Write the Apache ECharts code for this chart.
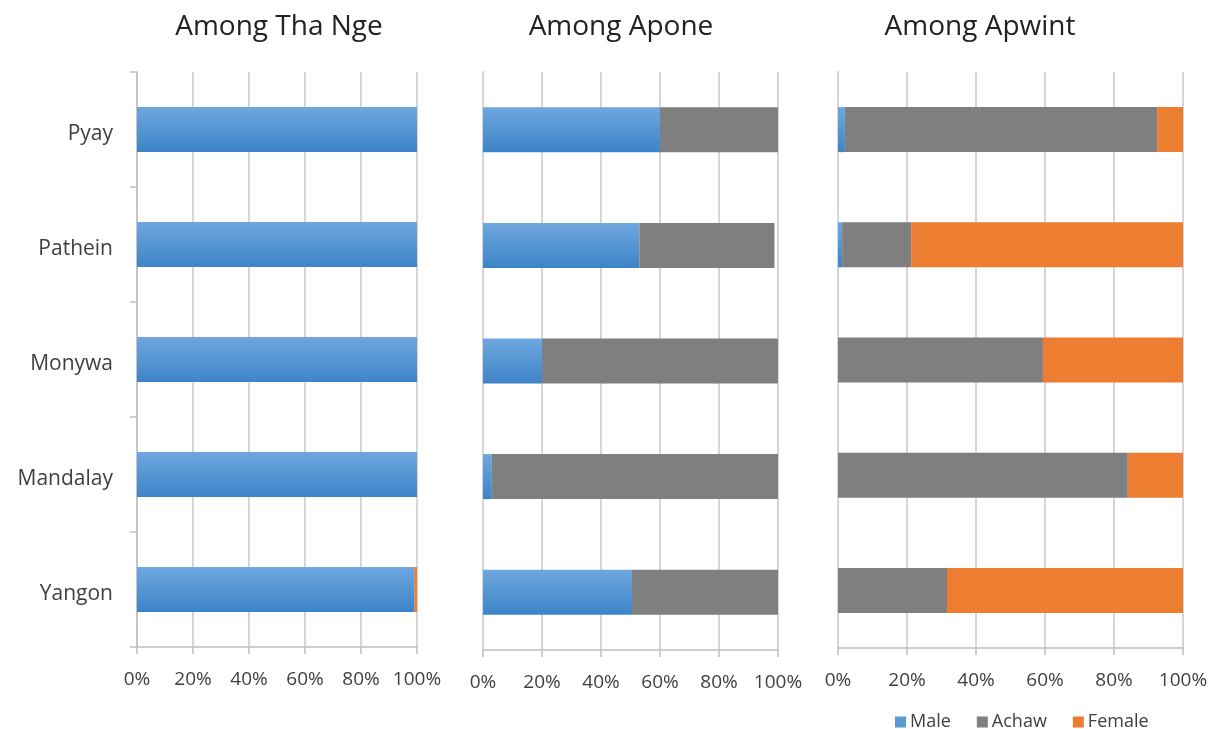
<!DOCTYPE html>
<html>
<head>
<meta charset="utf-8">
<title>Among Tha Nge / Apone / Apwint</title>
<script src="https://cdn.jsdelivr.net/npm/echarts@6/dist/echarts.min.js"></script>
<style>
  html, body { margin: 0; padding: 0; background: #ffffff; }
  #chart { width: 1214px; height: 729px; }
</style>
</head>
<body>
<div id="chart"></div>
<script>
// Cities, top to bottom
const categories = ['Pyay', 'Pathein', 'Monywa', 'Mandalay', 'Yangon'];

// Share of each group (%) per city
const thaNgeMale   = [100, 100, 100, 100, 99];
const thaNgeAchaw  = [0, 0, 0, 0, 0];
const thaNgeFemale = [0, 0, 0, 0, 1];

const aponeMale   = [60, 53, 20, 3, 50.5];
const aponeAchaw  = [40, 45.8, 80, 97, 49.5];
const aponeFemale = [0, 0, 0, 0, 0];

const apwintMale   = [2, 1.2, 0, 0, 0];
const apwintAchaw  = [90.5, 20, 59.4, 84, 31.6];
const apwintFemale = [7.5, 78.8, 40.6, 16, 68.4];

const panelTitles = ['Among Tha Nge', 'Among Apone', 'Among Apwint'];
const groupNames = ['Male', 'Achaw', 'Female'];
const tickValues = [0, 20, 40, 60, 80, 100];

const FONT = '"Open Sans", "Liberation Sans", sans-serif';
const LABEL_COLOR = '#404040';
const GRID_COLOR = '#d6d6d6';

const maleFill = new echarts.graphic.LinearGradient(0, 0, 0, 1, [
  { offset: 0, color: '#6fa7df' },
  { offset: 1, color: '#3d84c8' }
]);
const groupColors = [maleFill, '#7f7f7f', '#ed7d31'];
const legendColors = ['#5b9bd5', '#7f7f7f', '#ed7d31'];

const panels = [
  { data: [thaNgeMale, thaNgeAchaw, thaNgeFemale], grid: { left: 137, right: 797, top: 72, bottom: 82 }, titleX: 274, showCats: true },
  { data: [aponeMale, aponeAchaw, aponeFemale],    grid: { left: 483, right: 436, top: 72, bottom: 79 }, titleX: 616, showCats: false },
  { data: [apwintMale, apwintAchaw, apwintFemale], grid: { left: 838, right: 31,  top: 72, bottom: 81 }, titleX: 975, showCats: false }
];

const grids = [], xAxes = [], yAxes = [], series = [], titles = [];

panels.forEach((p, i) => {
  grids.push(p.grid);
  titles.push({
    text: panelTitles[i],
    left: p.titleX,
    top: 8,
    textAlign: 'center',
    textStyle: { fontFamily: FONT, fontSize: 28, fontWeight: 'normal', color: '#222222' }
  });
  xAxes.push({
    type: 'value',
    gridIndex: i,
    min: 0,
    max: 100,
    interval: 20,
    axisLine: { show: true, lineStyle: { color: '#bfbfbf', width: 1.5 } },
    axisTick: { show: true, length: 7, lineStyle: { color: '#bfbfbf', width: 1.5 } },
    splitLine: { show: true, lineStyle: { color: GRID_COLOR, width: 2 } },
    axisLabel: {
      formatter: v => tickValues.includes(v) ? v + '%' : '',
      fontFamily: FONT,
      fontSize: 19,
      color: LABEL_COLOR,
      margin: 23
    }
  });
  yAxes.push({
    type: 'category',
    gridIndex: i,
    data: categories,
    inverse: true,
    axisLine: { show: true, lineStyle: { color: p.showCats ? '#bfbfbf' : GRID_COLOR, width: p.showCats ? 1.5 : 2 } },
    axisTick: { show: p.showCats, length: 7, lineStyle: { color: '#bfbfbf', width: 1.5 } },
    axisLabel: {
      show: p.showCats,
      formatter: v => '{c|' + v + '}',
      margin: 24,
      rich: {
        c: {
          fontFamily: FONT,
          fontSize: 21,
          color: LABEL_COLOR,
          padding: [10, 0, 0, 0]
        }
      }
    }
  });
  p.data.forEach((values, k) => {
    series.push({
      type: 'bar',
      name: groupNames[k],
      xAxisIndex: i,
      yAxisIndex: i,
      stack: 'panel' + i,
      barWidth: 45,
      data: values,
      itemStyle: { color: groupColors[k] },
      emphasis: { disabled: true }
    });
  });
});

const chart = echarts.init(document.getElementById('chart'), null, { renderer: 'canvas' });
chart.setOption({
  animation: false,
  backgroundColor: '#ffffff',
  title: titles,
  grid: grids,
  xAxis: xAxes,
  yAxis: yAxes,
  series: series,
  legend: {
    data: groupNames.map((n, k) => ({ name: n, itemStyle: { color: legendColors[k] } })),
    left: 890,
    top: 708,
    icon: 'rect',
    itemWidth: 11,
    itemHeight: 11,
    itemGap: 26,
    textStyle: { fontFamily: FONT, fontSize: 18, color: LABEL_COLOR, padding: [0, 0, 0, -1] }
  }
});
</script>
</body>
</html>
